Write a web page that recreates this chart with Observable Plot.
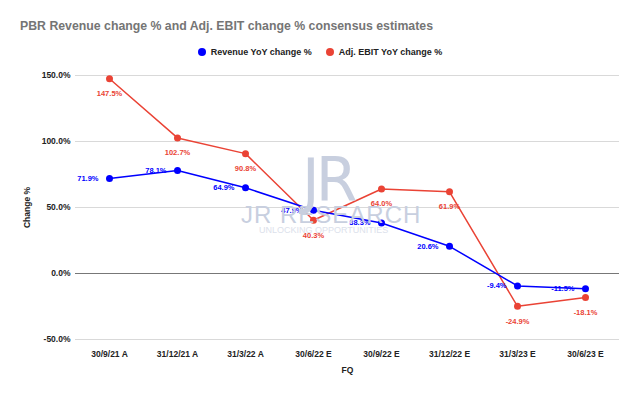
<!DOCTYPE html>
<html>
<head>
<meta charset="utf-8">
<script src="https://cdn.jsdelivr.net/npm/d3@7"></script>
<script src="https://cdn.jsdelivr.net/npm/@observablehq/plot@0.6"></script>
<style>
  html, body { margin: 0; padding: 0; background: #fff; }
  #wrap { position: relative; width: 640px; height: 396px; overflow: hidden; font-family: "Liberation Sans", Arial, sans-serif; }
  #title { position: absolute; left: 20px; top: 19px; font-size: 12.3px; font-weight: bold; color: #757575; white-space: nowrap; }
  #legend { position: absolute; left: 0; width: 640px; top: 47px; text-align: center; font-size: 9px; font-weight: bold; color: #222; white-space: nowrap; }
  #legend span.sw { display: inline-block; width: 8px; height: 8px; border-radius: 50%; vertical-align: -1px; margin-right: 5px; }
  #legend span.item { margin: 0 7px; }
  .wm { position: absolute; color: #c8cfdf; white-space: nowrap; }
  #chart { position: absolute; left: 0; top: 0; }
</style>
</head>
<body>
<div id="wrap">
  <div id="chart"></div>
  <div class="wm" style="left:302px; top:145px; font-size:60px; letter-spacing:-4px; font-family:'DejaVu Sans';">JR</div>
  <div class="wm" style="left:241px; top:201px; font-size:24px; letter-spacing:1px;">JR RESEARCH</div>
  <div class="wm" style="left:259px; top:225px; font-size:9px; color:#dce1eb;">UNLOCKING OPPORTUNITIES</div>
  <div id="title">PBR Revenue change % and Adj. EBIT change % consensus estimates</div>
  <div id="legend"></div>
</div>
<script>
const quarters = ["30/9/21 A", "31/12/21 A", "31/3/22 A", "30/6/22 E", "30/9/22 E", "31/12/22 E", "31/3/23 E", "30/6/23 E"];
const revenueChange = [71.9, 78.1, 64.9, 47.9, 38.3, 20.6, -9.4, -11.5];
const ebitChange = [147.5, 102.7, 90.8, 40.3, 64.0, 61.9, -24.9, -18.1];
const seriesNames = ["Revenue YoY change %", "Adj. EBIT YoY change %"];
const seriesColors = ["#0000ff", "#ea4335"];
const yTicks = [-50, 0, 50, 100, 150];

const rev = quarters.map((q, i) => ({q, v: revenueChange[i]}));
const ebit = quarters.map((q, i) => ({q, v: ebitChange[i]}));
const fmt = v => v.toFixed(1) + "%";

const legend = document.getElementById("legend");
legend.innerHTML = seriesNames.map((n, i) =>
  `<span class="item"><span class="sw" style="background:${seriesColors[i]}"></span>${n}</span>`).join("");

const chart = Plot.plot({
  width: 640,
  height: 396,
  marginLeft: 75,
  marginRight: 21,
  marginTop: 75,
  marginBottom: 57,
  style: {fontFamily: "'Liberation Sans', Arial, sans-serif", fontSize: "8.5px", fontWeight: "bold", color: "#222", background: "transparent"},
  x: {type: "point", domain: quarters, padding: 0.5},
  y: {domain: [-50, 150]},
  marks: [
    Plot.ruleY(yTicks.filter(d => d !== 0), {stroke: "#d9d9d9", strokeWidth: 1}),
    Plot.ruleY([0], {stroke: "#777", strokeWidth: 1.2}),
    Plot.axisY({ticks: yTicks, tickFormat: fmt, tickSize: 0, tickPadding: 5, label: "Change %", labelAnchor: "center", labelOffset: 52, labelArrow: "none"}),
    Plot.axisX({tickSize: 0, tickPadding: 11, label: "FQ", labelAnchor: "center", labelOffset: 33, labelArrow: "none"}),
    Plot.line(ebit, {x: "q", y: "v", stroke: seriesColors[1], strokeWidth: 1.5}),
    Plot.line(rev, {x: "q", y: "v", stroke: seriesColors[0], strokeWidth: 1.5}),
    Plot.dot(ebit, {x: "q", y: "v", fill: seriesColors[1], r: 3.5}),
    Plot.dot(rev, {x: "q", y: "v", fill: seriesColors[0], r: 3.5}),
    Plot.text(ebit, {x: "q", y: "v", text: d => fmt(d.v), fill: seriesColors[1], dy: 15, fontSize: 7.5, fontWeight: "bold"}),
    Plot.text(rev, {x: "q", y: "v", text: d => fmt(d.v), fill: seriesColors[0], dx: -11, textAnchor: "end", fontSize: 7.5, fontWeight: "bold"})
  ]
});
document.getElementById("chart").appendChild(chart);
</script>
</body>
</html>
